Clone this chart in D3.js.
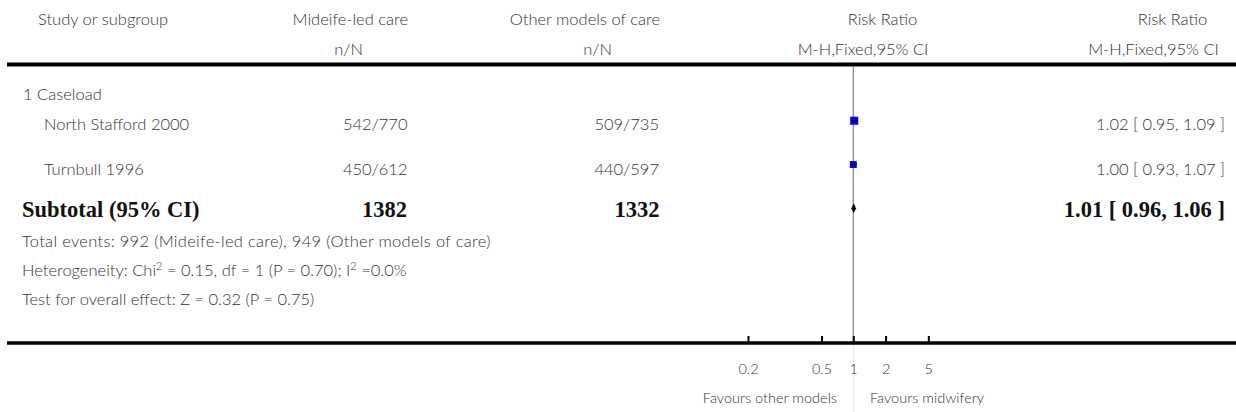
<!DOCTYPE html>
<html>
<head>
<meta charset="utf-8">
<script src="https://cdn.jsdelivr.net/npm/d3@7"></script>
<style>
  html, body { margin: 0; padding: 0; background: #fff; }
  svg { display: block; }
  .t { font-family: Lato, "Open Sans", sans-serif; font-weight: 300; fill: #333; }
  .b { font-family: "Liberation Serif", "DejaVu Serif", serif; font-weight: bold; fill: #111; }
</style>
</head>
<body>
<svg id="chart" width="1236" height="412"></svg>
<script>
// ---------- data ----------
const groupLabel = "1 Caseload";
const studies = ["North Stafford 2000", "Turnbull 1996"];
const midEvents = [542, 450];
const midTotals = [770, 612];
const otherEvents = [509, 440];
const otherTotals = [735, 597];
const riskRatios = [1.02, 1.00];
const ciLow = [0.95, 0.93];
const ciHigh = [1.09, 1.07];
const weights = [53.7, 46.3];
const subtotalLabel = "Subtotal (95% CI)";
const subtotalTotals = [1382, 1332];
const subtotalRR = [1.01, 0.96, 1.06];
const totalEventsText = "Total events: 992 (Mideife-led care), 949 (Other models of care)";
const testText = "Test for overall effect: Z = 0.32 (P = 0.75)";
const axisTicks = [0.2, 0.5, 1, 2, 5];
const axisTickLabels = ["0.2", "0.5", "1", "2", "5"];
const favoursLeft = "Favours other models";
const favoursRight = "Favours midwifery";

// ---------- layout ----------
const W = 1236, H = 412;
const svg = d3.select("#chart");
const fmt = d3.format(".2f");

// forest x scale (piecewise log)
const x = d3.scaleLog()
  .domain([0.2, 0.5, 1, 5])
  .range([748, 821.5, 853.3, 928.3]);
const sizeScale = d3.scaleLinear().domain([0, 100]).range([0, 15]);

const FS = 16.5;
const BFS = 22.5;
function txt(xp, yp, s, anchor, cls, fs) {
  return svg.append("text").attr("class", cls || "t")
    .attr("x", xp).attr("y", yp)
    .attr("text-anchor", anchor || "start")
    .attr("font-size", fs || FS)
    .text(s);
}

// header
txt(38, 25, "Study or subgroup");
txt(408, 25, "Mideife-led care", "end");
txt(363, 55, "n/N", "end");
txt(660, 25, "Other models of care", "end");
txt(612, 55, "n/N", "end");
txt(882.5, 25, "Risk Ratio", "middle");
txt(863, 55, "M-H,Fixed,95% CI", "middle");
txt(1172.5, 25, "Risk Ratio", "middle");
txt(1153.5, 55, "M-H,Fixed,95% CI", "middle");

// rules
svg.append("line").attr("x1", 7).attr("x2", W).attr("y1", 64.5).attr("y2", 64.5)
  .attr("stroke", "#000").attr("stroke-width", 4);
svg.append("line").attr("x1", 7).attr("x2", W).attr("y1", 343).attr("y2", 343)
  .attr("stroke", "#000").attr("stroke-width", 3.5);

// vertical line at RR=1
svg.append("line").attr("x1", x(1)).attr("x2", x(1)).attr("y1", 66).attr("y2", 341)
  .attr("stroke", "#808080").attr("stroke-width", 1.2);
svg.append("line").attr("x1", x(1)).attr("x2", x(1)).attr("y1", 345).attr("y2", H)
  .attr("stroke", "#e8e8e8").attr("stroke-width", 1);

// group label
txt(23, 100, groupLabel);

// study rows
const rowBase = [129.5, 174.5];
const markY = [120.7, 164.5];
studies.forEach((s, i) => {
  const yb = rowBase[i];
  txt(44, yb, s);
  txt(407.5, yb, midEvents[i] + "/" + midTotals[i], "end");
  txt(659, yb, otherEvents[i] + "/" + otherTotals[i], "end");
  txt(1225, yb, fmt(riskRatios[i]) + " [ " + fmt(ciLow[i]) + ", " + fmt(ciHigh[i]) + " ]", "end");
  const sz = sizeScale(weights[i]);
  const cx = x(riskRatios[i]);
  svg.append("rect").attr("x", cx - sz / 2).attr("y", markY[i] - sz / 2)
    .attr("width", sz).attr("height", sz).attr("fill", "#0000ff");
  svg.append("line").attr("x1", x(ciLow[i])).attr("x2", x(ciHigh[i]))
    .attr("y1", markY[i]).attr("y2", markY[i])
    .attr("stroke", "#000").attr("stroke-width", 1.4);
});

// subtotal
const subBase = 217;
txt(22, subBase, subtotalLabel, "start", "b", BFS);
txt(407, subBase, subtotalTotals[0], "end", "b", BFS);
txt(659.5, subBase, subtotalTotals[1], "end", "b", BFS);
txt(1225, subBase, fmt(subtotalRR[0]) + " [ " + fmt(subtotalRR[1]) + ", " + fmt(subtotalRR[2]) + " ]", "end", "b", BFS);
const dy = 208.3, dh = 5;
svg.append("path")
  .attr("d", `M${x(subtotalRR[1])},${dy} L${x(subtotalRR[0])},${dy - dh} L${x(subtotalRR[2])},${dy} L${x(subtotalRR[0])},${dy + dh} Z`)
  .attr("fill", "#000");

// footnotes
txt(22, 246.5, totalEventsText).attr("letter-spacing", 0.3);
const het = svg.append("text").attr("class", "t").attr("x", 22).attr("y", 276).attr("font-size", FS);
het.append("tspan").text("Heterogeneity: Chi");
het.append("tspan").attr("font-size", 11).attr("dy", -6).text("2");
het.append("tspan").attr("dy", 6).text(" = 0.15, df = 1 (P = 0.70); I");
het.append("tspan").attr("font-size", 11).attr("dy", -6).text("2");
het.append("tspan").attr("dy", 6).text(" =0.0%");
txt(22, 305, testText);

// axis
const axis = d3.axisBottom(x)
  .tickValues(axisTicks)
  .tickFormat((d, i) => axisTickLabels[i])
  .tickSize(-6).tickSizeOuter(0).tickPadding(22);
const ag = svg.append("g").attr("transform", "translate(0,342)").call(axis);
ag.select(".domain").remove();
ag.selectAll(".tick line").attr("stroke", "#000").attr("stroke-width", 2);
ag.selectAll(".tick text").attr("class", "t").attr("font-size", 14.5)
  .attr("font-family", null).attr("fill", "#333");

txt(837, 403, favoursLeft, "end", "t", 14.5);
txt(870, 403, favoursRight, "start", "t", 14.5);
</script>
</body>
</html>
